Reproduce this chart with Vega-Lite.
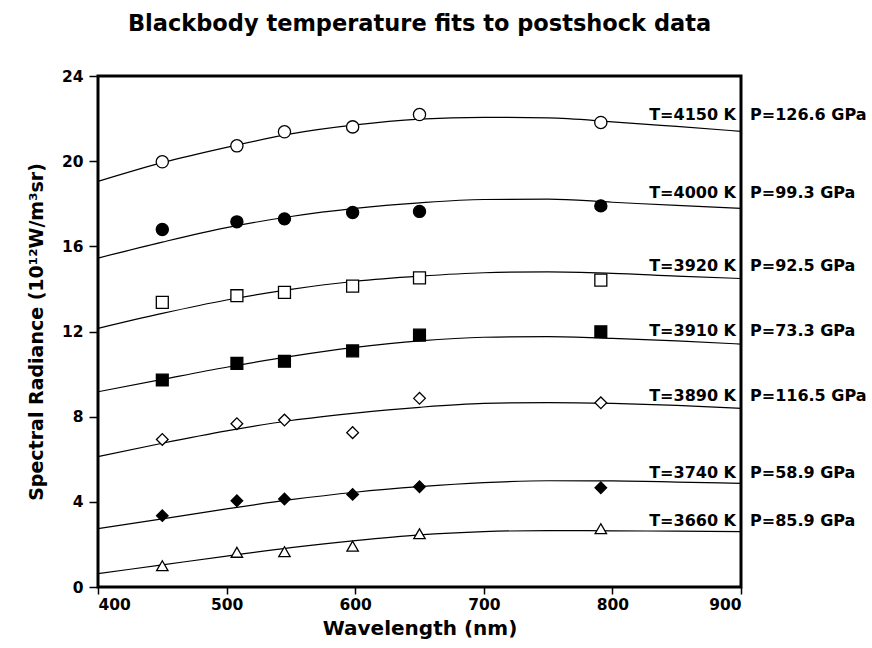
{
  "$schema": "https://vega.github.io/schema/vega-lite/v6.json",
  "width": 643,
  "height": 511,
  "autosize": "none",
  "padding": {"left": 98, "top": 76, "right": 131, "bottom": 61},
  "background": "white",
  "title": {"text": "Blackbody temperature fits to postshock data", "font": "DejaVu Sans", "fontSize": 22.5, "fontWeight": "bold", "color": "black", "anchor": "middle", "offset": 34},
  "config": {
    "view": {"stroke": "black", "strokeWidth": 3},
    "axis": {"grid": false, "domain": false, "labelFont": "DejaVu Sans", "labelFontWeight": "bold", "labelFontSize": 15.5, "labelColor": "black", "tickColor": "black", "tickWidth": 1.5, "titleFont": "DejaVu Sans", "titleFontWeight": "bold", "titleColor": "black", "titleFontSize": 20}
  },
  "datasets": {
    "fit": [
      {"series": "4150", "wl": 400, "rad": 19.05}, {"series": "4150", "wl": 450, "rad": 19.93}, {"series": "4150", "wl": 500, "rad": 20.65}, {"series": "4150", "wl": 550, "rad": 21.28}, {"series": "4150", "wl": 600, "rad": 21.7}, {"series": "4150", "wl": 650, "rad": 21.97}, {"series": "4150", "wl": 700, "rad": 22.06}, {"series": "4150", "wl": 750, "rad": 22.03}, {"series": "4150", "wl": 800, "rad": 21.85}, {"series": "4150", "wl": 850, "rad": 21.63}, {"series": "4150", "wl": 900, "rad": 21.4},
      {"series": "4000", "wl": 400, "rad": 15.45}, {"series": "4000", "wl": 450, "rad": 16.2}, {"series": "4000", "wl": 500, "rad": 16.88}, {"series": "4000", "wl": 550, "rad": 17.4}, {"series": "4000", "wl": 600, "rad": 17.78}, {"series": "4000", "wl": 650, "rad": 18.04}, {"series": "4000", "wl": 700, "rad": 18.2}, {"series": "4000", "wl": 750, "rad": 18.22}, {"series": "4000", "wl": 800, "rad": 18.07}, {"series": "4000", "wl": 850, "rad": 17.92}, {"series": "4000", "wl": 900, "rad": 17.78},
      {"series": "3920", "wl": 400, "rad": 12.15}, {"series": "3920", "wl": 450, "rad": 12.85}, {"series": "3920", "wl": 500, "rad": 13.48}, {"series": "3920", "wl": 550, "rad": 13.98}, {"series": "3920", "wl": 600, "rad": 14.36}, {"series": "3920", "wl": 650, "rad": 14.6}, {"series": "3920", "wl": 700, "rad": 14.76}, {"series": "3920", "wl": 750, "rad": 14.8}, {"series": "3920", "wl": 800, "rad": 14.73}, {"series": "3920", "wl": 850, "rad": 14.6}, {"series": "3920", "wl": 900, "rad": 14.49},
      {"series": "3910", "wl": 400, "rad": 9.17}, {"series": "3910", "wl": 450, "rad": 9.75}, {"series": "3910", "wl": 500, "rad": 10.32}, {"series": "3910", "wl": 550, "rad": 10.83}, {"series": "3910", "wl": 600, "rad": 11.25}, {"series": "3910", "wl": 650, "rad": 11.56}, {"series": "3910", "wl": 700, "rad": 11.73}, {"series": "3910", "wl": 750, "rad": 11.76}, {"series": "3910", "wl": 800, "rad": 11.68}, {"series": "3910", "wl": 850, "rad": 11.56}, {"series": "3910", "wl": 900, "rad": 11.41},
      {"series": "3890", "wl": 400, "rad": 6.12}, {"series": "3890", "wl": 450, "rad": 6.75}, {"series": "3890", "wl": 500, "rad": 7.33}, {"series": "3890", "wl": 550, "rad": 7.82}, {"series": "3890", "wl": 600, "rad": 8.17}, {"series": "3890", "wl": 650, "rad": 8.44}, {"series": "3890", "wl": 700, "rad": 8.62}, {"series": "3890", "wl": 750, "rad": 8.66}, {"series": "3890", "wl": 800, "rad": 8.62}, {"series": "3890", "wl": 850, "rad": 8.53}, {"series": "3890", "wl": 900, "rad": 8.39},
      {"series": "3740", "wl": 400, "rad": 2.74}, {"series": "3740", "wl": 450, "rad": 3.2}, {"series": "3740", "wl": 500, "rad": 3.67}, {"series": "3740", "wl": 550, "rad": 4.1}, {"series": "3740", "wl": 600, "rad": 4.45}, {"series": "3740", "wl": 650, "rad": 4.71}, {"series": "3740", "wl": 700, "rad": 4.9}, {"series": "3740", "wl": 750, "rad": 4.99}, {"series": "3740", "wl": 800, "rad": 4.98}, {"series": "3740", "wl": 850, "rad": 4.93}, {"series": "3740", "wl": 900, "rad": 4.87},
      {"series": "3660", "wl": 400, "rad": 0.63}, {"series": "3660", "wl": 450, "rad": 1.04}, {"series": "3660", "wl": 500, "rad": 1.45}, {"series": "3660", "wl": 550, "rad": 1.85}, {"series": "3660", "wl": 600, "rad": 2.18}, {"series": "3660", "wl": 650, "rad": 2.45}, {"series": "3660", "wl": 700, "rad": 2.6}, {"series": "3660", "wl": 750, "rad": 2.65}, {"series": "3660", "wl": 800, "rad": 2.64}, {"series": "3660", "wl": 850, "rad": 2.62}, {"series": "3660", "wl": 900, "rad": 2.6}
    ],
    "pts": [
      {"series": "4150", "wl": 450, "rad": 19.97}, {"series": "4150", "wl": 508, "rad": 20.72}, {"series": "4150", "wl": 545, "rad": 21.38}, {"series": "4150", "wl": 598, "rad": 21.61}, {"series": "4150", "wl": 650, "rad": 22.19}, {"series": "4150", "wl": 791, "rad": 21.82},
      {"series": "4000", "wl": 450, "rad": 16.79}, {"series": "4000", "wl": 508, "rad": 17.15}, {"series": "4000", "wl": 545, "rad": 17.29}, {"series": "4000", "wl": 598, "rad": 17.59}, {"series": "4000", "wl": 650, "rad": 17.64}, {"series": "4000", "wl": 791, "rad": 17.9},
      {"series": "3920", "wl": 450, "rad": 13.37}, {"series": "3920", "wl": 508, "rad": 13.68}, {"series": "3920", "wl": 545, "rad": 13.84}, {"series": "3920", "wl": 598, "rad": 14.13}, {"series": "3920", "wl": 650, "rad": 14.52}, {"series": "3920", "wl": 791, "rad": 14.41},
      {"series": "3910", "wl": 450, "rad": 9.72}, {"series": "3910", "wl": 508, "rad": 10.5}, {"series": "3910", "wl": 545, "rad": 10.6}, {"series": "3910", "wl": 598, "rad": 11.09}, {"series": "3910", "wl": 650, "rad": 11.83}, {"series": "3910", "wl": 791, "rad": 11.99},
      {"series": "3890", "wl": 450, "rad": 6.93}, {"series": "3890", "wl": 508, "rad": 7.67}, {"series": "3890", "wl": 545, "rad": 7.84}, {"series": "3890", "wl": 598, "rad": 7.25}, {"series": "3890", "wl": 650, "rad": 8.86}, {"series": "3890", "wl": 791, "rad": 8.65},
      {"series": "3740", "wl": 450, "rad": 3.35}, {"series": "3740", "wl": 508, "rad": 4.05}, {"series": "3740", "wl": 545, "rad": 4.13}, {"series": "3740", "wl": 598, "rad": 4.35}, {"series": "3740", "wl": 650, "rad": 4.71}, {"series": "3740", "wl": 791, "rad": 4.66},
      {"series": "3660", "wl": 450, "rad": 1.0}, {"series": "3660", "wl": 508, "rad": 1.63}, {"series": "3660", "wl": 545, "rad": 1.66}, {"series": "3660", "wl": 598, "rad": 1.92}, {"series": "3660", "wl": 650, "rad": 2.5}, {"series": "3660", "wl": 791, "rad": 2.74}
    ],
    "labels": [
      {"series": "4150", "T": "T=4150 K", "P": "P=126.6 GPa", "wl": 900, "rad": 22.15},
      {"series": "4000", "T": "T=4000 K", "P": "P=99.3 GPa", "wl": 900, "rad": 18.5},
      {"series": "3920", "T": "T=3920 K", "P": "P=92.5 GPa", "wl": 900, "rad": 15.09},
      {"series": "3910", "T": "T=3910 K", "P": "P=73.3 GPa", "wl": 900, "rad": 12.02},
      {"series": "3890", "T": "T=3890 K", "P": "P=116.5 GPa", "wl": 900, "rad": 8.97},
      {"series": "3740", "T": "T=3740 K", "P": "P=58.9 GPa", "wl": 900, "rad": 5.35},
      {"series": "3660", "T": "T=3660 K", "P": "P=85.9 GPa", "wl": 900, "rad": 3.1}
    ]
  },
  "encoding": {
    "x": {"field": "wl", "type": "quantitative", "scale": {"domain": [400, 900], "nice": false, "zero": false},
      "axis": {"title": "Wavelength (nm)", "values": [400, 500, 600, 700, 800, 900], "tickSize": 7, "labelPadding": 3, "titlePadding": 6}},
    "y": {"field": "rad", "type": "quantitative", "scale": {"domain": [0, 24], "nice": false},
      "axis": {"title": "Spectral Radiance (10¹²W/m³sr)", "titleFontSize": 19, "values": [0, 4, 8, 12, 16, 20, 24], "tickSize": 9, "labelPadding": 6, "titlePadding": 15}}
  },
  "layer": [
    {"data": {"name": "fit"}, "mark": {"type": "line", "color": "black", "strokeWidth": 1.2, "interpolate": "monotone"},
      "encoding": {"detail": {"field": "series", "type": "nominal"}}},
    {"data": {"name": "pts"}, "mark": {"type": "point", "filled": true, "stroke": "black", "strokeWidth": 1.3, "opacity": 1},
      "encoding": {
        "shape": {"field": "series", "type": "nominal", "legend": null, "scale": {"domain": ["4150", "4000", "3920", "3910", "3890", "3740", "3660"], "range": ["circle", "circle", "square", "square", "diamond", "diamond", "triangle-up"]}},
        "fill": {"field": "series", "type": "nominal", "legend": null, "scale": {"domain": ["4150", "4000", "3920", "3910", "3890", "3740", "3660"], "range": ["white", "black", "white", "black", "white", "black", "white"]}},
        "size": {"field": "series", "type": "nominal", "legend": null, "scale": {"domain": ["4150", "4000", "3920", "3910", "3890", "3740", "3660"], "range": [150, 130, 140, 150, 100, 280, 120]}}
      }},
    {"data": {"name": "labels"}, "mark": {"type": "text", "align": "right", "baseline": "middle", "dx": -5, "font": "DejaVu Sans", "fontWeight": "bold", "fontSize": 16, "color": "black"},
      "encoding": {"text": {"field": "T", "type": "nominal"}}},
    {"data": {"name": "labels"}, "mark": {"type": "text", "align": "left", "baseline": "middle", "dx": 9, "font": "DejaVu Sans", "fontWeight": "bold", "fontSize": 16, "color": "black"},
      "encoding": {"text": {"field": "P", "type": "nominal"}}}
  ]
}
